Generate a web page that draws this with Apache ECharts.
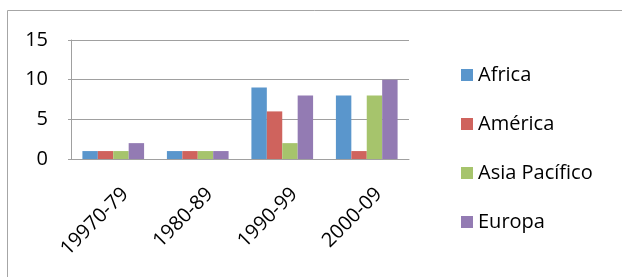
<!DOCTYPE html>
<html><head><meta charset="utf-8">
<script src="https://cdn.jsdelivr.net/npm/echarts@6/dist/echarts.min.js"></script>
<style>html,body{margin:0;padding:0;background:#fff}#c{width:622px;height:277px}</style>
</head><body><div id="c"></div>
<script>
const categories = ["19970-79", "1980-89", "1990-99", "2000-09"];
const africa = [1, 1, 9, 8];
const america = [1, 1, 6, 1];
const asiaPacifico = [1, 1, 2, 8];
const europa = [2, 1, 8, 10];
const seriesNames = ["Africa", "América", "Asia Pacífico", "Europa"];
const colors = ["#5A96CC", "#CF635D", "#A6C46C", "#937BB3"];
const font = "'Open Sans', Lato, sans-serif";

const chart = echarts.init(document.getElementById('c'), null, {renderer: 'canvas'});
const data = [africa, america, asiaPacifico, europa];
chart.setOption({
  animation: false,
  color: colors,
  graphic: [{
    type: 'polyline', shape: {points: [[7.5, 277], [7.5, 10.5], [622, 10.5]]},
    style: {stroke: '#a6a6a6', lineWidth: 1, fill: null}
  }],
  grid: {left: 71, right: 213, top: 40, bottom: 118},
  legend: {
    orient: 'vertical', left: 456, top: 60,
    itemWidth: 12, itemHeight: 12, itemGap: 29,
    icon: 'rect',
    textStyle: {fontFamily: font, fontSize: 20, color: '#000', padding: [0, 0, 0, 0]},
    data: seriesNames
  },
  xAxis: {
    type: 'category', data: categories,
    axisLine: {lineStyle: {color: '#a0a0a0'}},
    axisTick: {show: false},
    axisLabel: {rotate: 45, fontFamily: font, fontSize: 20, color: '#000', margin: 30,
      interval: 0, align: 'right', verticalAlign: 'top', padding: [0, -7, 0, 0]}
  },
  yAxis: {
    type: 'value', min: 0, max: 15, interval: 5,
    axisLine: {show: true, lineStyle: {color: '#a0a0a0'}},
    axisTick: {show: true, length: 3, lineStyle: {color: '#a0a0a0'}},
    splitLine: {lineStyle: {color: '#a0a0a0'}},
    axisLabel: {fontFamily: font, fontSize: 20, color: '#000', margin: 23}
  },
  series: seriesNames.map((n, i) => ({
    name: n, type: 'bar', data: data[i],
    barGap: '0%', barCategoryGap: '27%'
  }))
});
</script></body></html>
